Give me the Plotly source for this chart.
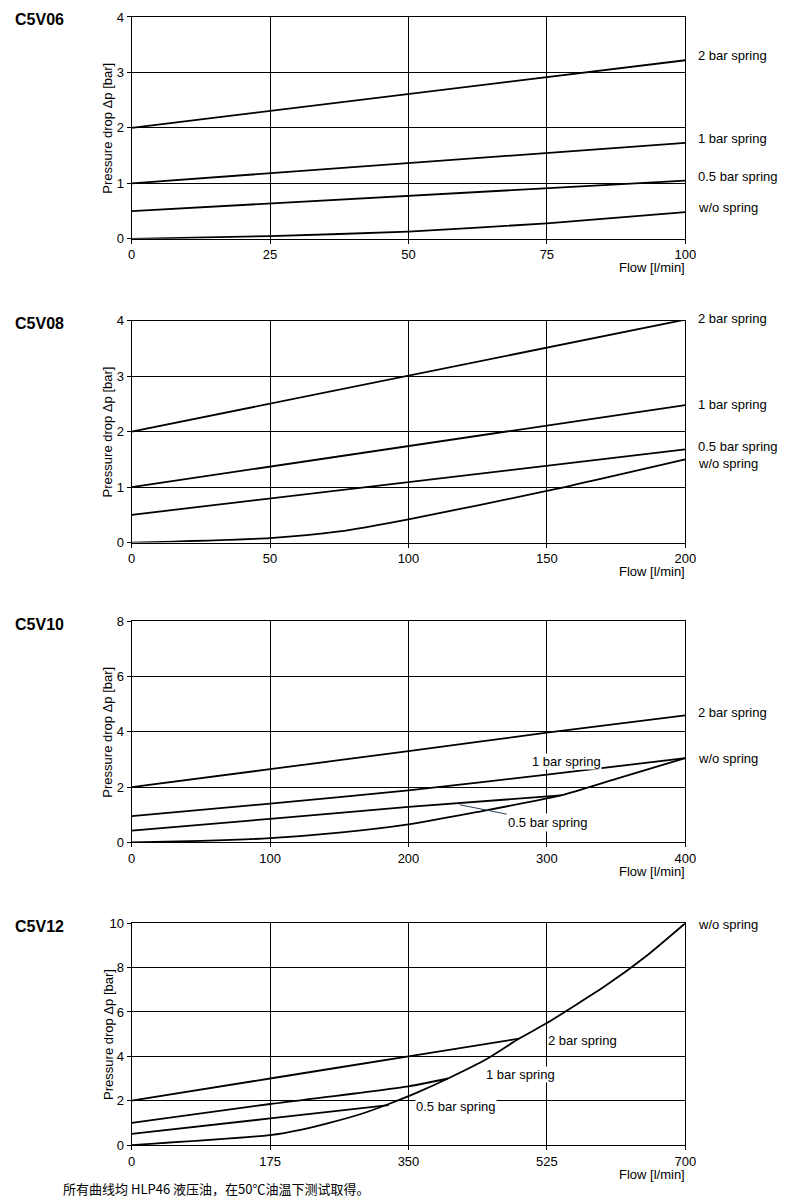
import plotly.graph_objects as go

W, H = 790, 1200
titles = ["C5V06", "C5V08", "C5V10", "C5V12"]
xmax = [100, 200, 400, 700]
ymax = [4, 4, 8, 10]
xticks = [[0, 25, 50, 75, 100], [0, 50, 100, 150, 200], [0, 100, 200, 300, 400], [0, 175, 350, 525, 700]]
yticks = [[0, 1, 2, 3, 4], [0, 1, 2, 3, 4], [0, 2, 4, 6, 8], [0, 2, 4, 6, 8, 10]]

c06_x2 = [0, 100]; c06_y2 = [2, 3.22]
c06_x1 = [0, 100]; c06_y1 = [1, 1.73]
c06_x05 = [0, 100]; c06_y05 = [0.5, 1.05]
c06_xw = [0, 25, 50, 75, 100]; c06_yw = [0, 0.05, 0.13, 0.28, 0.48]

c08_x2 = [0, 200]; c08_y2 = [2, 4.02]
c08_x1 = [0, 200]; c08_y1 = [1, 2.48]
c08_x05 = [0, 200]; c08_y05 = [0.5, 1.68]
c08_xw = [0, 50, 75, 100, 150, 200]; c08_yw = [0, 0.08, 0.2, 0.42, 0.93, 1.5]

c10_x2 = [0, 100, 200, 300, 400]; c10_y2 = [2, 2.65, 3.3, 3.97, 4.6]
c10_x1 = [0, 100, 200, 300, 400]; c10_y1 = [0.95, 1.4, 1.88, 2.45, 3.05]
c10_x05 = [0, 100, 200, 310]; c10_y05 = [0.42, 0.85, 1.28, 1.7]
c10_xw = [0, 50, 100, 150, 200, 250, 310, 350, 400]; c10_yw = [0, 0.05, 0.15, 0.35, 0.65, 1.1, 1.7, 2.3, 3.05]

c12_x2 = [0, 175, 350, 490]; c12_y2 = [2, 3, 4, 4.8]
c12_x1 = [0, 175, 350, 400]; c12_y1 = [1, 1.85, 2.65, 3.0]
c12_x05 = [0, 175, 325]; c12_y05 = [0.5, 1.2, 1.8]
c12_xw = [0, 175, 215, 250, 290, 325, 360, 400, 450, 490, 525, 600, 650, 700]
c12_yw = [0, 0.45, 0.7, 1.0, 1.4, 1.85, 2.35, 3.0, 3.9, 4.8, 5.5, 7.2, 8.5, 10]

series = [
    [(c06_x2, c06_y2), (c06_x1, c06_y1), (c06_x05, c06_y05), (c06_xw, c06_yw)],
    [(c08_x2, c08_y2), (c08_x1, c08_y1), (c08_x05, c08_y05), (c08_xw, c08_yw)],
    [(c10_x2, c10_y2), (c10_x1, c10_y1), (c10_x05, c10_y05), (c10_xw, c10_yw)],
    [(c12_x2, c12_y2), (c12_x1, c12_y1), (c12_x05, c12_y05), (c12_xw, c12_yw)],
]

tops = [15, 319, 620, 922]
bots = [237, 541, 841, 1144]
L, R = 131, 686
FONT = "Liberation Sans, Arial, sans-serif"

def px(X):
    return (X - 11) / 777
def py(Y):
    return 1 - (Y - 13) / 1186

fig = go.Figure()
layout = dict(width=W, height=H, margin=dict(l=0, r=0, t=0, b=0),
              paper_bgcolor="white", plot_bgcolor="white", showlegend=False,
              font=dict(family=FONT, size=13, color="black"))
ann = []
for i in range(4):
    xa = "xaxis" if i == 0 else f"xaxis{i+1}"
    ya = "yaxis" if i == 0 else f"yaxis{i+1}"
    xr = "x" if i == 0 else f"x{i+1}"
    yr = "y" if i == 0 else f"y{i+1}"
    for (xs, ys) in series[i]:
        fig.add_trace(go.Scatter(x=xs, y=ys, mode="lines", xaxis=xr, yaxis=yr,
                                 line=dict(color="black", width=1.8, shape="spline", smoothing=0.6)))
    common = dict(showgrid=True, gridcolor="black", gridwidth=1, showline=True, linecolor="black",
                  linewidth=1, mirror=True, ticks="outside", ticklen=4, tickcolor="black",
                  zeroline=False, tickfont=dict(size=13))
    layout[xa] = dict(common, domain=[px(L), px(R)], range=[0, xmax[i]], tickvals=xticks[i], anchor=yr)
    layout[ya] = dict(common, domain=[py(bots[i]), py(tops[i])], range=[0, ymax[i]],
                      tickvals=yticks[i], anchor=xr)
    ann.append(dict(x=px(12), y=py(tops[i] + 3), xref="paper", yref="paper", text=f"<b>{titles[i]}</b>",
                    showarrow=False, xanchor="left", yanchor="middle", font=dict(size=16)))
    ann.append(dict(x=px(107), y=py((tops[i] + bots[i]) / 2), xref="paper", yref="paper",
                    text="Pressure drop Δp [bar]", textangle=-90, showarrow=False,
                    xanchor="center", yanchor="middle", font=dict(size=13)))
    ann.append(dict(x=px(688), y=py(bots[i] + 29), xref="paper", yref="paper",
                    text="Flow [l/min]", showarrow=False, xanchor="right", yanchor="middle",
                    font=dict(size=13)))

def rlab(y, text):
    ann.append(dict(x=px(697), y=py(y), xref="paper", yref="paper", text=text,
                    showarrow=False, xanchor="left", yanchor="middle", font=dict(size=13)))

rlab(54, "2 bar spring"); rlab(137, "1 bar spring"); rlab(175, "0.5 bar spring"); rlab(206, "w/o spring")
rlab(317, "2 bar spring"); rlab(403, "1 bar spring"); rlab(445, "0.5 bar spring"); rlab(462, "w/o spring")
rlab(711, "2 bar spring"); rlab(757, "w/o spring")
rlab(923, "w/o spring")

def ilab(xr, yr, x, y, text):
    ann.append(dict(x=x, y=y, xref=xr, yref=yr, text=text, showarrow=False, bgcolor="white",
                    borderpad=0, font=dict(size=13)))

ilab("x3", "y3", 314, 2.92, "1 bar spring")
ann.append(dict(x=237, y=1.36, xref="x3", yref="y3", text="0.5 bar spring", showarrow=True,
                arrowhead=0, arrowwidth=1, ax=301, ay=0.72, axref="x3", ayref="y3",
                standoff=0, startstandoff=0, bgcolor="white", font=dict(size=13)))
ilab("x4", "y4", 570, 4.7, "2 bar spring")
ilab("x4", "y4", 492, 3.2, "1 bar spring")
ilab("x4", "y4", 410, 1.75, "0.5 bar spring")

ann.append(dict(x=px(60), y=py(1187), xref="paper", yref="paper",
                text="所有曲线均 HLP46 液压油，在50℃油温下测试取得。", showarrow=False,
                xanchor="left", yanchor="middle", font=dict(size=13, family="Noto Sans CJK SC")))
layout["annotations"] = ann
fig.update_layout(**layout)
fig.write_html("out.html")
